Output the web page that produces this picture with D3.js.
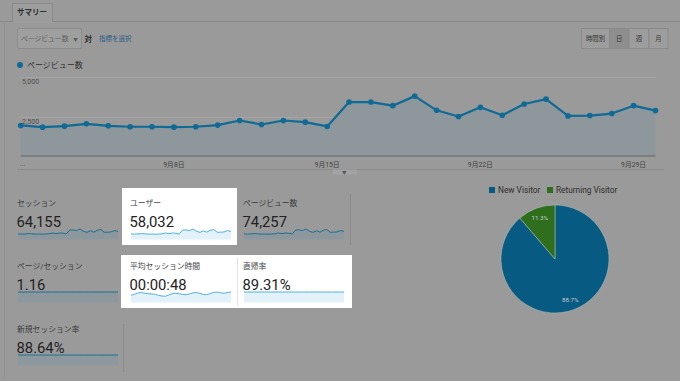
<!DOCTYPE html>
<html><head><meta charset="utf-8">
<script src="https://cdn.jsdelivr.net/npm/d3@7"></script>
<style>
html,body{margin:0;padding:0;background:#9a9a9a;overflow:hidden}
text{font-family:Roboto,"Noto Sans CJK JP",sans-serif}
</style></head><body>
<svg id="c" width="680" height="381"></svg>
<script>
// ---------- data ----------
const days = d3.range(1, 31).map(d => "9月" + d + "日");
const pageviews = [1964,1860,1922,2066,1943,1883,1883,1860,1883,1985,2272,2026,2272,2170,1903,
  3422,3422,3196,3791,2907,2519,3093,2601,3299,3606,2560,2580,2704,3196,2888];
const yTicks = [2500, 5000];
const xTickDays = [8, 15, 22, 29];

const metricLabels = ["セッション","ユーザー","ページビュー数","ページ/セッション","平均セッション時間","直帰率","新規セッション率"];
const metricValues = ["64,155","58,032","74,257","1.16","00:00:48","89.31%","88.64%"];
const sessionsSpark = [1700,1610,1660,1780,1680,1620,1630,1600,1620,1710,1960,1750,1960,1870,1640,2950,2950,2760,3270,2510,2170,2670,2240,2840,3110,2210,2220,2330,2750,2490];
const usersSpark = [1530,1450,1500,1600,1510,1460,1470,1440,1460,1540,1770,1580,1770,1690,1480,2660,2660,2490,2950,2260,1960,2410,2020,2560,2800,1990,2000,2100,2480,2250];
const pagesPerSessionSpark = [1.16,1.15,1.16,1.16,1.16,1.16,1.15,1.16,1.16,1.16,1.16,1.16,1.16,1.16,1.16,1.16,1.16,1.16,1.16,1.16,1.16,1.16,1.16,1.16,1.16,1.16,1.16,1.16,1.16,1.16];
const durationSpark = [38,44,52,54,50,47,46,44,38,34,33,40,48,50,47,43,42,46,52,54,49,43,42,48,55,56,52,50,54,57];
const bounceSpark = [89.4,89.3,89.3,89.4,89.3,89.3,89.3,89.4,89.3,89.3,89.3,89.3,89.3,89.4,89.3,89.3,89.3,89.3,89.3,89.3,89.3,89.3,89.3,89.3,89.3,89.3,89.3,89.3,89.3,89.3];
const newSessionSpark = [88.6,88.7,88.6,88.6,88.6,88.7,88.6,88.6,88.6,88.6,88.6,88.6,88.6,88.6,88.6,88.6,88.6,88.6,88.7,88.6,88.6,88.6,88.6,88.6,88.6,88.6,88.6,88.6,88.6,88.6];
const sparks = [sessionsSpark, usersSpark, pageviews, pagesPerSessionSpark, durationSpark, bounceSpark, newSessionSpark];
const highlighted = [false, true, false, false, true, true, false];

const pieLabels = ["New Visitor","Returning Visitor"];
const pieValues = [88.7, 11.3];

// ---------- drawing ----------
const svg = d3.select("#c");
const BLUE = "#0f6a95", FILL = "#8d979c";

// top tab bar
svg.append("line").attr("x1",0).attr("x2",680).attr("y1",21.5).attr("y2",21.5).attr("stroke","#878787");
svg.append("line").attr("x1",4.5).attr("x2",4.5).attr("y1",21).attr("y2",381).attr("stroke","#929292");
svg.append("path").attr("d","M12.5,21.5V3.5H52.5V21.5").attr("fill","#9d9d9d").attr("stroke","#8a8a8a");
svg.append("rect").attr("x",13).attr("y",20).attr("width",39).attr("height",3).attr("fill","#9d9d9d");
svg.append("text").attr("x",17).attr("y",15).attr("font-size",7.5).attr("font-weight","bold").attr("fill","#2e2e2e").text("サマリー");

// selector
svg.append("rect").attr("x",17.5).attr("y",28.5).attr("width",64).attr("height",20).attr("rx",1.5).attr("fill","#9f9f9f").attr("stroke","#8c8c8c");
svg.append("text").attr("x",21).attr("y",41).attr("font-size",6.8).attr("fill","#5e5e5e").text("ページビュー数");
svg.append("text").attr("x",73).attr("y",41).attr("font-size",5).attr("fill","#5e5e5e").text("▼");
svg.append("text").attr("x",84.5).attr("y",41.5).attr("font-size",7.5).attr("font-weight","bold").attr("fill","#2e2e2e").text("対");
svg.append("text").attr("x",99).attr("y",41).attr("font-size",6.5).attr("fill","#2c5f88").text("指標を選択");

// period buttons
const btns = [["時間別",581,609],["日",609,628.5],["週",628.5,648.5],["月",648.5,667.5]];
const bg = svg.append("g");
bg.selectAll("rect").data(btns).join("rect")
  .attr("x",d=>d[1]+0.5).attr("y",28.5).attr("width",d=>d[2]-d[1]).attr("height",20)
  .attr("fill",(d,i)=>i===1?"#8e8e8e":"#9d9d9d").attr("stroke","#8a8a8a");
bg.selectAll("text").data(btns).join("text")
  .attr("x",d=>(d[1]+d[2])/2+0.5).attr("y",41).attr("text-anchor","middle")
  .attr("font-size",6.3).attr("fill","#333").text(d=>d[0]);

// legend
svg.append("circle").attr("cx",20).attr("cy",65).attr("r",3).attr("fill",BLUE);
svg.append("text").attr("x",27).attr("y",68).attr("font-size",8).attr("fill","#2e2e2e").text("ページビュー数");

// line chart
const x = d3.scaleLinear().domain([0, pageviews.length-1]).range([20.7, 655.5]);
const y = d3.scaleLinear().domain([0, 5000]).range([157, 76.7]);
const g = svg.append("g");
g.selectAll(".grid").data(yTicks).join("line")
  .attr("x1",20).attr("x2",656).attr("y1",d=>Math.round(y(d))+0.5).attr("y2",d=>Math.round(y(d))+0.5)
  .attr("stroke","#a5a5a5");
g.selectAll(".yl").data(yTicks).join("text")
  .attr("x",22).attr("y",d=>y(d)+7.5).attr("font-size",7).attr("fill","#505050")
  .text(d=>d3.format(",")(d));
g.append("path").datum(pageviews)
  .attr("d", d3.area().x((d,i)=>x(i)).y0(y(0)).y1(d=>y(d)))
  .attr("fill",FILL);
g.append("line").attr("x1",20.7).attr("x2",655.5).attr("y1",156).attr("y2",156).attr("stroke","#777").attr("stroke-width",1.5);
g.append("path").datum(pageviews)
  .attr("d", d3.line().x((d,i)=>x(i)).y(d=>y(d)))
  .attr("fill","none").attr("stroke",BLUE).attr("stroke-width",2.2).attr("stroke-linejoin","round");
g.selectAll(".pt").data(pageviews).join("circle")
  .attr("cx",(d,i)=>x(i)).attr("cy",d=>y(d)).attr("r",2.8).attr("fill",BLUE);
g.append("text").attr("x",20).attr("y",166).attr("font-size",6.5).attr("fill","#505050").text("...");
g.selectAll(".xl").data(xTickDays).join("text")
  .attr("x",d=>x(d-1)).attr("y",166.5).attr("text-anchor","middle").attr("font-size",6.8).attr("fill","#404040")
  .text(d=>days[d-1]);
svg.append("line").attr("x1",17).attr("x2",664).attr("y1",169.5).attr("y2",169.5).attr("stroke","#8b8b8b");
svg.append("rect").attr("x",333).attr("y",169.5).attr("width",24).attr("height",5).attr("fill","#a3a3a3");
svg.append("text").attr("x",342).attr("y",174).attr("font-size",4.5).attr("fill","#555").text("▼");

// white highlight boxes
svg.append("rect").attr("x",122).attr("y",188).attr("width",115).attr("height",57).attr("fill","#fff");
svg.append("rect").attr("x",121).attr("y",255).attr("width",231).attr("height",53).attr("fill","#fff");
svg.append("line").attr("x1",237.5).attr("x2",237.5).attr("y1",258).attr("y2",305).attr("stroke","#e2e2e2");
svg.append("line").attr("x1",350.5).attr("x2",350.5).attr("y1",194).attr("y2",245).attr("stroke","#8a8a8a");
svg.append("line").attr("x1",123.5).attr("x2",123.5).attr("y1",324).attr("y2",372).attr("stroke","#8a8a8a");

// metrics
const colX = [17, 130, 243], rowY = [203, 266, 329];
metricLabels.forEach((lab, k) => {
  const cx = colX[k % 3], ry = rowY[Math.floor(k / 3)];
  const hi = highlighted[k];
  const mg = svg.append("g");
  mg.append("text").attr("x",cx).attr("y",ry+2.5).attr("font-size",7.8).attr("fill",hi?"#444":"#3a3a3a").text(lab);
  mg.append("text").attr("x",cx-0.5).attr("y",ry+23.5).attr("font-size",14.8).attr("fill","#222").text(metricValues[k]);
  const data = sparks[k];
  const sx = d3.scaleLinear().domain([0, data.length-1]).range([cx+1, cx+101]);
  const sy = d3.scaleLinear().domain([0, d3.max(data)]).range([ry+36, ry+26]);
  mg.append("path").datum(data).attr("d", d3.area().x((d,i)=>sx(i)).y0(ry+36.5).y1(d=>sy(d)))
    .attr("fill", hi ? "#e2f1fa" : "#8c989e");
  mg.append("path").datum(data).attr("d", d3.line().x((d,i)=>sx(i)).y(d=>sy(d)))
    .attr("fill","none").attr("stroke", hi ? "#4fb2e3" : "#1a6f96").attr("stroke-width",1);
});

// pie
const pie = d3.pie().sort(null).value(d=>d)(pieValues);
const arc = d3.arc().innerRadius(0).outerRadius(54);
const labArc = d3.arc().innerRadius(44).outerRadius(44);
const pieColors = ["#075a81", "#2f6e1d"];
const pg = svg.append("g").attr("transform","translate(555,259)");
pg.selectAll("path").data(pie).join("path").attr("d",arc).attr("fill",(d,i)=>pieColors[i])
  .attr("stroke","#b9c4b8").attr("stroke-width",0.5);
pg.selectAll("text").data(pie).join("text")
  .attr("transform",d=>"translate("+labArc.centroid(d)+")").attr("dy","0.35em")
  .attr("text-anchor","middle").attr("font-size",6.2).attr("fill","#c6ccd0")
  .text((d,i)=>pieValues[i].toFixed(1)+"%");
const lg = svg.append("g");
[489, 547].forEach((lx, i) => {
  lg.append("rect").attr("x",lx).attr("y",187).attr("width",6).attr("height",6).attr("fill",pieColors[i]);
  lg.append("text").attr("x",lx+9).attr("y",193).attr("font-size",8.3).attr("fill","#2e2e2e").text(pieLabels[i]);
});
</script>
</body></html>
